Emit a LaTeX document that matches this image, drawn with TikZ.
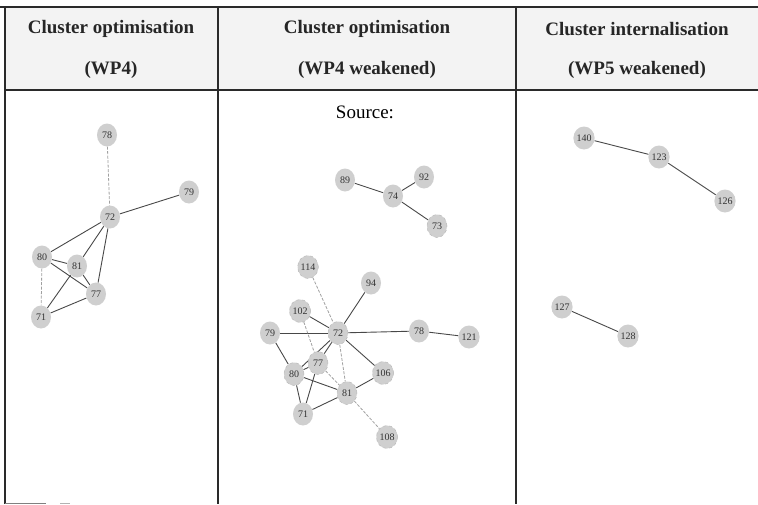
\documentclass[tikz,border=0pt]{standalone}
\usepackage{fontspec}
\setmainfont{Liberation Serif}
\usetikzlibrary{shapes.geometric,backgrounds}
\definecolor{nodegray}{HTML}{CFCFCF}
\definecolor{edgedark}{HTML}{484848}
\definecolor{edgelight}{HTML}{A0A0A0}
\definecolor{framecol}{HTML}{2A2A2A}
\definecolor{headfill}{HTML}{F3F3F3}
\tikzset{
  nd/.style={ellipse, fill=nodegray, minimum width=20pt, minimum height=23pt, inner sep=0pt,
    font=\fontsize{10}{10}\selectfont, text=black!80},
  ndd/.style={nd, draw=gray!55, dashed, line width=0.5pt},
  ed/.style={draw=edgedark, line width=0.9pt},
  el/.style={draw=edgelight, line width=0.8pt, dash pattern=on 3pt off 1.5pt},
  hd/.style={font=\bfseries\fontsize{19}{19}\selectfont, text=black!85},
  frame/.style={draw=framecol, line width=1.1pt}
}
\begin{document}
\begin{tikzpicture}[x=1pt,y=-1pt]
\useasboundingbox (0,0) rectangle (758,504);
% header
\fill[headfill] (5,7) rectangle (758,90);
\draw[frame] (0,7) -- (758,7);
\draw[frame] (5,90) -- (758,90);
\draw[draw=framecol, line width=1.8pt] (5,7) -- (5,504);
\draw[frame] (218,7) -- (218,504);
\draw[frame] (516,7) -- (516,504);
\draw[draw=gray, line width=1pt] (5,503) -- (46,503);
\draw[draw=gray!60, line width=1pt] (60,503) -- (70,503);
\node[hd] (h1a) at (111,29) {Cluster optimisation};
\node[hd] (h1b) at (111,70) {(WP4)};
\node[hd] (h2a) at (367,29) {Cluster optimisation};
\node[hd] (h2b) at (367,70) {(WP4 weakened)};
\node[hd] (h3a) at (637,29) {Cluster internalisation};
\node[hd] (h3b) at (637,70) {(WP5 weakened)};
% left panel
\node[nd] (a78) at (107,135) {78};
\node[nd] (a79) at (189,192) {79};
\node[nd] (a72) at (110,217) {72};
\node[nd] (a80) at (42,257) {80};
\node[nd] (a81) at (77,266) {81};
\node[nd] (a77) at (96,294) {77};
\node[nd] (a71) at (41,317) {71};
\begin{scope}[on background layer]
\draw[el] (a78) -- (a72);
\draw[ed] (a72) -- (a79);
\draw[ed] (a72) -- (a80);
\draw[ed] (a72) -- (a81);
\draw[ed] (a72) -- (a77);
\draw[ed] (a80) -- (a81);
\draw[ed] (a80) -- (a77);
\draw[el] (a80) -- (a71);
\draw[ed] (a81) -- (a71);
\draw[ed] (a81) -- (a77);
\draw[ed] (a71) -- (a77);
\end{scope}
% middle panel
\node[font=\fontsize{19}{19}\selectfont] (src) at (365,112) {Source:};
\node[nd] (b89) at (345,180) {89};
\node[nd] (b74) at (393,196) {74};
\node[nd] (b92) at (424,177) {92};
\node[ndd] (b73) at (437,226) {73};
\node[ndd] (b114) at (308,267) {114};
\node[nd] (b94) at (371,283) {94};
\node[ndd] (b102) at (300,311) {102};
\node[ndd] (b72) at (338,333) {72};
\node[nd] (b79) at (270,333) {79};
\node[nd] (b78) at (419,331) {78};
\node[nd] (b121) at (469,337) {121};
\node[ndd] (b77) at (318,363) {77};
\node[ndd] (b80) at (294,374) {80};
\node[ndd] (b106) at (383,373) {106};
\node[ndd] (b81) at (347,393) {81};
\node[nd] (b71) at (303,414) {71};
\node[ndd] (b108) at (387,437) {108};
\begin{scope}[on background layer]
\draw[ed] (b89) -- (b74);
\draw[ed] (b74) -- (b92);
\draw[ed] (b74) -- (b73);
\draw[el] (b114) -- (b72);
\draw[ed] (b94) -- (b72);
\draw[ed] (b102) -- (b72);
\draw[ed] (b79) -- (b72);
\draw[ed] (b72) -- (b78);
\draw[ed] (b78) -- (b121);
\draw[ed] (b72) -- (b77);
\draw[ed] (b72) -- (b80);
\draw[el] (b72) -- (b81);
\draw[ed] (b72) -- (b106);
\draw[el] (b102) -- (b77);
\draw[ed] (b79) -- (b80);
\draw[ed] (b80) -- (b77);
\draw[ed] (b80) -- (b81);
\draw[el] (b77) -- (b81);
\draw[ed] (b80) -- (b71);
\draw[ed] (b77) -- (b71);
\draw[ed] (b71) -- (b81);
\draw[ed] (b81) -- (b106);
\draw[el] (b81) -- (b108);
\end{scope}
% right panel
\node[nd] (c140) at (584,138) {140};
\node[nd] (c123) at (659,157) {123};
\node[nd] (c126) at (725,201) {126};
\node[nd] (c127) at (562,307) {127};
\node[nd] (c128) at (628,336) {128};
\begin{scope}[on background layer]
\draw[ed] (c140) -- (c123);
\draw[ed] (c123) -- (c126);
\draw[ed] (c127) -- (c128);
\end{scope}
\end{tikzpicture}
\end{document}
